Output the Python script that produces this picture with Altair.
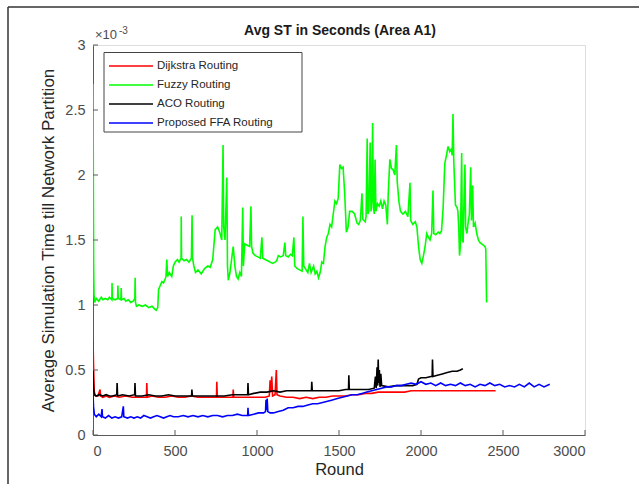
import altair as alt
import pandas as pd

# ---------------- data (values in units of 1e-3 s) ----------------
series_names = ["Dijkstra Routing", "Fuzzy Routing", "ACO Routing", "Proposed FFA Routing"]
series_colors = ["#ff0000", "#00ff00", "#000000", "#0000ff"]

dijkstra_rounds = [0, 3, 5, 8, 15, 30, 43, 46, 60, 80, 100, 130, 160, 200, 240, 280, 326, 328, 331, 360,
                   400, 440, 480, 520, 560, 600, 640, 690, 753, 755, 758, 800, 853, 855, 858, 900, 950,
                   1000, 1050, 1075, 1080, 1085, 1090, 1095, 1110, 1118, 1122, 1140, 1180, 1220, 1260,
                   1300, 1340, 1380, 1420, 1460, 1500, 1540, 1580, 1620, 1660, 1700, 1740, 1780, 1820,
                   1860, 1900, 1940, 1980, 2020, 2060, 2100, 2150, 2200, 2250, 2300, 2350, 2400, 2455]
dijkstra_values = [0.73, 0.55, 0.45, 0.33, 0.30, 0.30, 0.35, 0.30, 0.29, 0.30, 0.29, 0.30, 0.29, 0.30, 0.29,
                   0.29, 0.29, 0.40, 0.29, 0.30, 0.29, 0.29, 0.30, 0.29, 0.29, 0.30, 0.29, 0.29, 0.29, 0.41,
                   0.29, 0.29, 0.29, 0.35, 0.29, 0.29, 0.29, 0.29, 0.29, 0.30, 0.42, 0.33, 0.45, 0.30, 0.31,
                   0.50, 0.31, 0.30, 0.29, 0.29, 0.28, 0.29, 0.28, 0.29, 0.29, 0.30, 0.30, 0.30, 0.31, 0.31,
                   0.32, 0.32, 0.33, 0.33, 0.33, 0.33, 0.33, 0.34, 0.34, 0.34, 0.34, 0.34, 0.34, 0.34, 0.34,
                   0.34, 0.34, 0.34, 0.34]

fuzzy_rounds = [0, 4, 6, 10, 20, 35, 50, 60, 75, 90, 100, 115, 116, 118, 135, 150, 152, 154, 170, 172, 174,
                190, 200, 215, 230, 245, 255, 257, 259, 265, 280, 300, 320, 340, 360, 375, 385, 395, 400,
                410, 420, 430, 440, 445, 450, 455, 465, 480, 490, 500, 515, 525, 537, 538, 540, 555, 570,
                585, 600, 604, 607, 615, 625, 640, 660, 680, 700, 715, 730, 745, 760, 775, 785, 793, 797,
                805, 816, 820, 825, 835, 845, 855, 865, 875, 885, 895, 905, 913, 917, 925, 940, 955, 963,
                967, 975, 990, 1005, 1020, 1030, 1035, 1050, 1065, 1080, 1095, 1110, 1120, 1130, 1145,
                1160, 1170, 1175, 1190, 1205, 1215, 1225, 1230, 1245, 1260, 1275, 1280, 1285, 1295, 1310,
                1320, 1330, 1345, 1355, 1365, 1375, 1385, 1395, 1405, 1415, 1425, 1435, 1445, 1455, 1465,
                1475, 1485, 1495, 1505, 1515, 1525, 1535, 1545, 1555, 1565, 1580, 1595, 1610, 1620, 1630,
                1640, 1645, 1660, 1665, 1672, 1676, 1682, 1690, 1695, 1700, 1705, 1710, 1715, 1720, 1725,
                1735, 1745, 1755, 1765, 1775, 1785, 1795, 1800, 1810, 1820, 1830, 1840, 1850, 1855, 1865,
                1875, 1890, 1905, 1920, 1933, 1937, 1950, 1965, 1975, 1985, 1995, 2005, 2015, 2025, 2035,
                2045, 2055, 2065, 2073, 2078, 2090, 2105, 2115, 2125, 2135, 2145, 2155, 2165, 2175, 2185,
                2190, 2195, 2200, 2210, 2220, 2225, 2230, 2235, 2240, 2248, 2252, 2257, 2262, 2268, 2272,
                2280, 2287, 2295, 2303, 2308, 2315, 2320, 2330, 2340, 2350, 2360, 2370, 2380, 2390, 2395,
                2400]
fuzzy_values = [2.70, 1.30, 1.08, 1.02, 1.05, 1.03, 1.06, 1.04, 1.05, 1.04, 1.06, 1.04, 1.17, 1.05, 1.04,
                1.05, 1.15, 1.05, 1.04, 1.13, 1.04, 1.05, 1.03, 1.04, 1.02, 1.03, 1.05, 1.21, 1.02, 0.99,
                1.00, 0.99, 1.00, 0.98, 0.99, 0.97, 0.96, 0.98, 1.12, 1.15, 1.18, 1.17, 1.20, 1.22, 1.35,
                1.22, 1.25, 1.22, 1.30, 1.33, 1.35, 1.33, 1.36, 1.68, 1.36, 1.34, 1.35, 1.33, 1.36, 1.69,
                1.36, 1.30, 1.25, 1.27, 1.24, 1.28, 1.30, 1.29, 1.35, 1.58, 1.60, 1.55, 1.50, 2.23, 1.60,
                1.50, 1.98, 1.30, 1.19, 1.25, 1.35, 1.45, 1.30, 1.22, 1.20, 1.25, 1.22, 1.75, 1.30, 1.47,
                1.46, 1.45, 1.76, 1.45, 1.40, 1.38, 1.37, 1.36, 1.52, 1.36, 1.35, 1.34, 1.33, 1.32, 1.33,
                1.34, 1.38, 1.37, 1.38, 1.48, 1.38, 1.37, 1.39, 1.38, 1.52, 1.30, 1.28, 1.27, 1.26, 1.68,
                1.30, 1.28, 1.25, 1.32, 1.25, 1.30, 1.24, 1.26, 1.21, 1.25, 1.33, 1.32, 1.45, 1.52, 1.55,
                1.62, 1.60, 1.70, 1.80, 1.78, 1.82, 2.08, 2.05, 2.06, 1.85, 1.56, 1.60, 1.72, 1.72, 1.70,
                1.63, 1.62, 1.65, 1.86, 1.66, 1.64, 1.68, 2.28, 1.70, 1.72, 2.25, 1.72, 1.80, 2.40, 1.75,
                1.70, 2.12, 1.72, 1.78, 1.76, 1.80, 1.74, 1.80, 1.77, 1.62, 1.85, 2.12, 2.05, 2.04, 2.00,
                2.23, 1.95, 1.80, 1.72, 1.70, 1.72, 1.68, 1.94, 1.65, 1.62, 1.64, 1.60, 1.45, 1.35, 1.32,
                1.38, 1.45, 1.55, 1.52, 1.50, 1.55, 1.88, 1.55, 1.54, 1.56, 1.55, 1.57, 1.75, 2.09, 2.15,
                2.22, 2.18, 2.20, 2.15, 2.47, 2.10, 1.77, 1.75, 1.72, 1.60, 1.38, 1.45, 2.17, 1.50, 1.48,
                1.80, 2.08, 1.60, 1.55, 1.63, 1.70, 2.06, 1.65, 1.92, 1.60, 1.63, 1.55, 1.50, 1.48, 1.47,
                1.46, 1.45, 1.43, 1.02]

aco_rounds = [0, 3, 8, 20, 40, 60, 80, 100, 120, 145, 147, 150, 180, 220, 254, 256, 259, 300, 340, 380,
              420, 460, 500, 550, 601, 603, 606, 650, 700, 750, 800, 850, 900, 943, 945, 948, 980, 1020,
              1060, 1100, 1140, 1180, 1220, 1260, 1300, 1332, 1334, 1337, 1380, 1420, 1460, 1500, 1540,
              1558, 1560, 1563, 1600, 1640, 1680, 1715, 1722, 1727, 1732, 1736, 1739, 1742, 1746, 1750,
              1755, 1760, 1800, 1850, 1900, 1950, 1975, 1985, 2000, 2030, 2060, 2068, 2070, 2073, 2100,
              2130, 2160, 2190, 2220, 2240, 2255]
aco_values = [0.50, 0.36, 0.31, 0.30, 0.31, 0.30, 0.31, 0.30, 0.30, 0.31, 0.40, 0.30, 0.31, 0.30, 0.31,
              0.40, 0.30, 0.30, 0.31, 0.30, 0.30, 0.31, 0.30, 0.30, 0.30, 0.35, 0.30, 0.30, 0.30, 0.30,
              0.30, 0.31, 0.31, 0.31, 0.40, 0.31, 0.32, 0.33, 0.33, 0.34, 0.33, 0.34, 0.34, 0.34, 0.34,
              0.34, 0.41, 0.34, 0.34, 0.34, 0.34, 0.34, 0.35, 0.35, 0.46, 0.35, 0.35, 0.35, 0.35, 0.36,
              0.45, 0.36, 0.52, 0.38, 0.58, 0.40, 0.50, 0.37, 0.47, 0.38, 0.37, 0.38, 0.38, 0.38, 0.39,
              0.43, 0.44, 0.44, 0.45, 0.45, 0.58, 0.45, 0.46, 0.47, 0.48, 0.49, 0.49, 0.50, 0.51]

ffa_rounds = [0, 3, 8, 20, 35, 50, 55, 58, 75, 95, 115, 135, 155, 175, 185, 188, 210, 230, 250, 270, 290,
              310, 330, 350, 370, 390, 410, 430, 450, 470, 490, 520, 550, 580, 610, 640, 670, 700, 730,
              760, 790, 820, 850, 880, 910, 943, 945, 948, 980, 1010, 1040, 1052, 1055, 1058, 1062, 1066,
              1080, 1100, 1130, 1160, 1190, 1220, 1250, 1280, 1310, 1340, 1370, 1400, 1430, 1460, 1490,
              1520, 1550, 1580, 1610, 1640, 1670, 1700, 1730, 1760, 1790, 1820, 1850, 1880, 1910, 1940,
              1970, 2000, 2030, 2060, 2090, 2120, 2150, 2180, 2210, 2240, 2270, 2300, 2330, 2360, 2390,
              2420, 2450, 2480, 2510, 2540, 2570, 2600, 2630, 2660, 2690, 2720, 2750, 2785]
ffa_values = [0.31, 0.22, 0.16, 0.14, 0.16, 0.14, 0.20, 0.14, 0.13, 0.15, 0.13, 0.14, 0.13, 0.14, 0.22,
              0.14, 0.13, 0.14, 0.13, 0.14, 0.13, 0.15, 0.14, 0.13, 0.14, 0.15, 0.14, 0.13, 0.14, 0.15,
              0.14, 0.14, 0.15, 0.14, 0.15, 0.14, 0.15, 0.14, 0.15, 0.15, 0.14, 0.15, 0.15, 0.16, 0.15,
              0.15, 0.21, 0.15, 0.16, 0.17, 0.17, 0.18, 0.27, 0.19, 0.28, 0.18, 0.17, 0.17, 0.18, 0.19,
              0.21, 0.21, 0.22, 0.22, 0.23, 0.24, 0.24, 0.25, 0.26, 0.27, 0.28, 0.29, 0.30, 0.31, 0.31,
              0.32, 0.33, 0.34, 0.35, 0.36, 0.37, 0.37, 0.38, 0.38, 0.39, 0.40, 0.39, 0.41, 0.39, 0.40,
              0.38, 0.40, 0.38, 0.39, 0.38, 0.40, 0.38, 0.39, 0.37, 0.39, 0.38, 0.40, 0.38, 0.39, 0.37,
              0.38, 0.37, 0.39, 0.37, 0.40, 0.37, 0.39, 0.37, 0.39]

x_ticks = [0, 500, 1000, 1500, 2000, 2500, 3000]
y_ticks = [0, 0.5, 1, 1.5, 2, 2.5, 3]

title_text = "Avg ST in Seconds (Area A1)"
x_title = "Round"
y_title = "Average Simulation Time till Network Partition"

# ---------------- build table ----------------
rows = []
for name, rs, vs in zip(series_names,
                        [dijkstra_rounds, fuzzy_rounds, aco_rounds, ffa_rounds],
                        [dijkstra_values, fuzzy_values, aco_values, ffa_values]):
    for r, v in zip(rs, vs):
        rows.append({"series": name, "round": r, "value": v})
df = pd.DataFrame(rows)

W, H = 492, 390
FONT = "Liberation Sans"
AXIS_COLOR = "#5a5a5a"
LABEL_COLOR = "#4d4d4d"
TEXT_DARK = "#262626"

x_axis = alt.Axis(values=x_ticks, title=x_title, format="d", grid=False, ticks=False,
                  domainColor=AXIS_COLOR, labelColor=LABEL_COLOR, labelFontSize=14.5, labelPadding=9,
                  titleFontSize=16.5, titleFontWeight="normal", titleColor=TEXT_DARK, titlePadding=4,
                  labelFont=FONT, titleFont=FONT)
y_axis = alt.Axis(values=y_ticks, title=y_title, format="~g", grid=False, ticks=False,
                  domainColor=AXIS_COLOR, labelColor=LABEL_COLOR, labelFontSize=14.5, labelPadding=8,
                  titleFontSize=17, titleFontWeight="normal", titleColor=TEXT_DARK, titlePadding=7,
                  labelFont=FONT, titleFont=FONT)
x_scale = alt.Scale(domain=[0, 3000], nice=False, zero=False)
y_scale = alt.Scale(domain=[0, 3], nice=False)

color = alt.Color("series:N", scale=alt.Scale(domain=series_names, range=series_colors), legend=None)

layers = []
for name in series_names:
    layers.append(
        alt.Chart(df).transform_filter(alt.datum.series == name)
        .mark_line(strokeWidth=1.6, clip=True)
        .encode(x=alt.X("round:Q", scale=x_scale, axis=x_axis),
                y=alt.Y("value:Q", scale=y_scale, axis=y_axis),
                color=color)
    )

# inward MATLAB-style ticks
xt = alt.Chart(pd.DataFrame({"round": x_ticks})).mark_rule(color=AXIS_COLOR).encode(
    x=alt.X("round:Q", scale=x_scale, axis=x_axis), y=alt.value(H), y2=alt.value(H - 5))
yt = alt.Chart(pd.DataFrame({"value": y_ticks})).mark_rule(color=AXIS_COLOR).encode(
    y=alt.Y("value:Q", scale=y_scale, axis=y_axis), x=alt.value(0), x2=alt.value(5))

one = alt.Chart(pd.DataFrame({"a": [1]}))

# exponent label
expo_base = one.mark_text(align="left", baseline="middle", fontSize=13, font=FONT,
                          color=LABEL_COLOR).encode(text=alt.value("×10"), x=alt.value(2), y=alt.value(-10))
expo_pow = one.mark_text(align="left", baseline="middle", fontSize=10, font=FONT,
                         color=LABEL_COLOR).encode(text=alt.value("-3"), x=alt.value(26), y=alt.value(-14))

# title
title = one.mark_text(align="center", baseline="middle", fontSize=14, font=FONT, fontWeight="bold",
                      color="#1a1a1a").encode(text=alt.value(title_text), x=alt.value(247), y=alt.value(-14))

# legend (boxed, upper-left, like MATLAB)
legend_parts = [one.mark_rect(fill="white", stroke="#444444", strokeWidth=1).encode(
    x=alt.value(11), x2=alt.value(209), y=alt.value(7.5), y2=alt.value(87))]
row_y = [21, 40, 59, 78]
for name, col, ry in zip(series_names, series_colors, row_y):
    legend_parts.append(one.mark_rule(stroke=col, strokeWidth=1.3).encode(
        x=alt.value(16), x2=alt.value(60), y=alt.value(ry)))
    legend_parts.append(one.mark_text(align="left", baseline="middle", fontSize=11.5, font=FONT,
                                      color=TEXT_DARK).encode(
        text=alt.value(name), x=alt.value(64), y=alt.value(ry)))

# figure frame
frame_top = one.mark_rule(color="#333333", strokeWidth=1.5).encode(
    x=alt.value(-85), x2=alt.value(560), y=alt.value(-38))
frame_left = one.mark_rule(color="#333333", strokeWidth=1.5).encode(
    x=alt.value(-85), y=alt.value(-38), y2=alt.value(H + 60))

chart = alt.layer(*layers, xt, yt, expo_base, expo_pow, title, *legend_parts,
                  frame_top, frame_left).properties(
    width=W, height=H,
    autosize=alt.AutoSizeParams(type="none"),
    padding={"left": 93, "top": 45, "right": 54, "bottom": 49},
).configure_view(stroke=None).configure(background="white")

chart.save("out.html", embed_options={"renderer": "svg", "actions": False})
